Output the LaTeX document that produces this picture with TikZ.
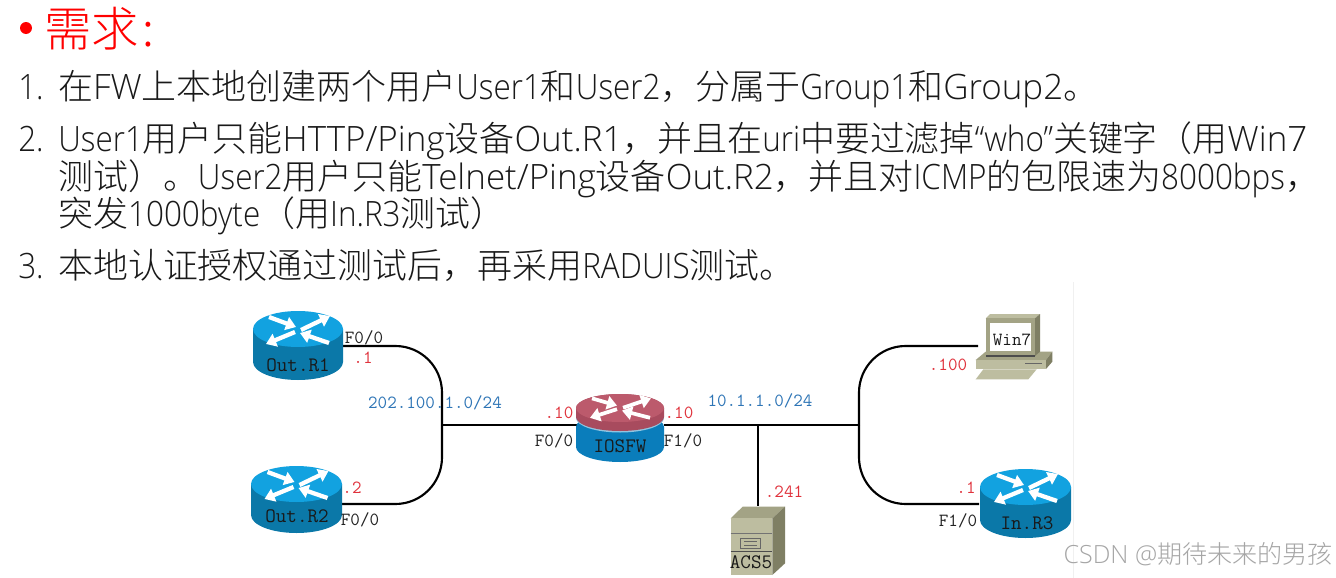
\documentclass[tikz,border=0pt]{standalone}
\usepackage{fontspec}
\setmainfont{Noto Sans CJK SC Light}
\newfontfamily\lat[FakeStretch=0.9]{Open Sans Light}
\newfontfamily\latw{Open Sans Light}
\usetikzlibrary{arrows.meta}
\definecolor{rtop}{HTML}{12A2E0}
\definecolor{rside}{HTML}{0B78A8}
\definecolor{ptop}{HTML}{BC5A6C}
\definecolor{pmid}{HTML}{A84B5E}
\definecolor{pside}{HTML}{0A7DBB}
\definecolor{txtred}{HTML}{E0323C}
\definecolor{txtblue}{HTML}{2E75B6}
\definecolor{txtdark}{HTML}{222222}
\definecolor{beige}{HTML}{BDBDA0}
\definecolor{beiged}{HTML}{7F7F64}
\definecolor{beigem}{HTML}{A3A385}
\tikzset{
  body/.style={font=\fontsize{26.2}{30}\selectfont,anchor=base west,inner sep=0pt,text=black!90},
  tag/.style={font=\ttfamily\fontsize{13.9}{15}\selectfont,inner sep=0pt},
  iptag/.style={tag,text=txtred},
  portag/.style={tag,text=txtdark},
  nettag/.style={tag,text=txtblue},
  devname/.style={font=\ttfamily\fontsize{15.4}{17}\selectfont,inner sep=0pt,text=black!90},
  link/.style={draw=black,line width=1.6pt,rounded corners=35pt},
  plainlink/.style={draw=black,line width=1.4pt},
  port/.style={inner sep=0pt,minimum size=0pt},
  flow/.style={-{Triangle[length=7.5pt,width=10pt]},white,line width=3.2pt},
}
% cx, top y, bottom y, top colour, side colour, half width, ellipse ry
\newcommand{\routerbody}[7]{%
  \fill[#5] (#1-#6,#2+#7) -- (#1-#6,#3-#7) arc[start angle=180,end angle=360,x radius=#6,y radius=-#7] -- (#1+#6,#2+#7) -- cycle;
  \fill[#4] (#1,#2+#7) ellipse[x radius=#6,y radius=#7];
}
\newcommand{\routerflows}[3]{%
  \begin{scope}[shift={(#1,#2)},yscale=#3]
    \draw[flow] (-29,-12) -- (-2,-2);
    \draw[flow] (3,1) -- (32,-13);
    \draw[flow] (-3,3) -- (-32,15);
    \draw[flow] (31,14) -- (2,4);
  \end{scope}
}
\begin{document}
\begin{tikzpicture}[x=0.75pt,y=-0.75pt]
\useasboundingbox[fill=white] (0,0) rectangle (1336,578);
% faint image edge
\draw[black!6,line width=0.6pt] (1073,282) -- (1073,578);
% text
\fill[red] (26,28) circle[radius=6];
\node[body,text=red,font=\fontsize{35.5}{38}\selectfont] (title) at (44,46) {需求\hspace{3pt}:};
\node[body] (n1) at (18,99) {\lat 1.};
\node[body] (t1) at (58,99) {在{\latw FW}上本地创建两个用户{\lat User1}和{\lat User2}，分属于{\lat Group1}和{\latw Group2}。};
\node[body] (n2) at (18,151) {\lat 2.};
\node[body] (t2) at (58,151) {{\lat User1}用户只能{\latw HTTP/Ping}设备{\latw Out.R1}，并且在{\lat uri}中要过滤掉{\lat “who”}关键字（用{\latw Win7}};
\node[body] (t3) at (58,189) {测试）。{\lat User2}用户只能{\latw Telnet/Ping}设备{\latw Out.R2}，并且对{\lat ICMP}的包限速为{\lat 8000bps}，};
\node[body] (t4) at (58,226) {突发{\lat 1000byte}（用{\lat In.R3}测试）};
\node[body] (n3) at (18,278) {\lat 3.};
\node[body] (t5) at (58,278) {本地认证授权通过测试后，再采用{\lat RADUIS}测试。};
% anchors for connectors
\node[port] (r1) at (343,346) {};
\node[port] (r2) at (342,504) {};
\node[port] (fwl) at (577,425) {};
\node[port] (fwr) at (664,425) {};
\node[port] (pc) at (978,346) {};
\node[port] (r3) at (979,504) {};
\node[port] (acs) at (758,506) {};
\coordinate (jL) at (442,425);
\coordinate (jR) at (859,425);
\coordinate (jA) at (758,425);
% connectors
\draw[link] (r1.center) -| (jL);
\draw[link] (r2.center) -| (jL);
\draw[link] (pc.center) -| (jR);
\draw[link] (r3.center) -| (jR);
\draw[plainlink] (jL) -- (fwl.center);
\draw[plainlink] (fwr.center) -- (jR);
\draw[plainlink] (jA) -- (acs.center);
% routers
\routerbody{298}{311}{380}{rtop}{rside}{45}{18}
\routerflows{298}{329}{1}
\node[devname] (nr1) at (298,365) {Out.R1};
\routerbody{296.5}{466}{533}{rtop}{rside}{45.5}{18}
\routerflows{296.5}{484}{1}
\node[devname] (nr2) at (297,516) {Out.R2};
\routerbody{1025.5}{469}{538}{rtop}{rside}{45.5}{18}
\routerflows{1026}{487}{1}
\node[devname] (nr3) at (1027,523) {In.R3};
% firewall
\routerbody{620}{412}{462}{pside}{pside}{44}{15}
\fill[white!55!pside] (620,418) ellipse[x radius=44,y radius=14.5];
\routerbody{620}{394}{431}{pmid}{pmid}{44}{14}
\fill[ptop] (620,408) ellipse[x radius=44,y radius=14];
\begin{scope}[shift={(620,407)},yscale=0.72]
  \draw[flow,line width=2.8pt] (-28,-12) -- (-3,-2);
  \draw[flow,line width=2.8pt] (3,1) -- (31,-12);
  \draw[flow,line width=2.8pt] (-3,3) -- (-30,15);
  \draw[flow,line width=2.8pt] (30,15) -- (2,5);
\end{scope}
\node[devname] (nfw) at (620,446) {IOSFW};
% Win7 PC
\begin{scope}[shift={(840,300)},x=0.25pt,y=-0.25pt]
  \fill[beigem] (407,180) -- (437,155) -- (637,155) -- (618,180) -- cycle;
  \fill[beiged] (618,180) -- (637,155) -- (637,185) -- (618,207) -- cycle;
  \fill[beige] (407,180) rectangle (618,207);
  \draw[black!60,line width=0.7pt] (555,190) -- (605,190);
  \fill[beige] (407,238) -- (565,238) -- (590,208) -- (430,208) -- cycle;
  \fill[beige] (437,55) -- (450,42) -- (600,42) -- (585,55) -- cycle;
  \fill[beiged] (585,55) -- (600,42) -- (600,155) -- (585,168) -- cycle;
  \fill[beigem] (437,55) rectangle (585,168);
  \fill[white] (450,70) rectangle (572,153);
  \draw[black!70,line width=0.8pt] (438,168) -- (585,168);
\end{scope}
\node[tag,text=black!90] (nwin) at (1012,340) {Win7};
% ACS server
\begin{scope}[shift={(520,370)},x=0.25pt,y=-0.25pt]
  \fill[beigem] (632,445) -- (668,410) -- (795,410) -- (757,445) -- cycle;
  \fill[beiged] (757,445) -- (795,410) -- (795,580) -- (757,615) -- cycle;
  \fill[beige] (632,445) rectangle (757,615);
  \draw[black!55,line width=0.6pt] (632,490) -- (757,490);
  \draw[black!70,line width=0.7pt] (632,545) -- (757,545);
  \draw[black!60,line width=0.6pt] (660,505) rectangle (722,535);
  \draw[black!60,line width=0.5pt] (672,515) -- (710,515) (672,525) -- (710,525);
\end{scope}
\node[devname] (nacs) at (751,562) {ACS5};
% port and address labels
\node[portag] (p1) at (364,338) {F0/0};
\node[iptag] (a1) at (363,358) {.1};
\node[nettag] (net1) at (435,403) {202.100.1.0/24};
\node[iptag] (a2) at (352,488) {.2};
\node[portag] (p2) at (360,520) {F0/0};
\node[iptag] (a3) at (559,413) {.10};
\node[portag] (p3) at (554,441) {F0/0};
\node[iptag] (a4) at (679,413) {.10};
\node[portag] (p4) at (683,441) {F1/0};
\node[nettag] (net2) at (760,401) {10.1.1.0/24};
\node[iptag] (a5) at (784,492) {.241};
\node[iptag] (a6) at (948,365) {.100};
\node[iptag] (a7) at (966,488) {.1};
\node[portag] (p5) at (958,521) {F1/0};
% watermark
\node[inner sep=0pt,anchor=base east,text=black!35,font=\fontsize{18.8}{22}\selectfont] (mark) at (1333,563) {{\latw CSDN @}期待未来的男孩};
\end{tikzpicture}
\end{document}
